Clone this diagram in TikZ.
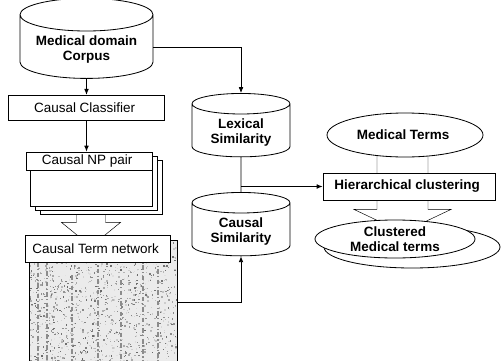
\documentclass[tikz,border=0pt]{standalone}
\usepackage{fontspec}
\setmainfont{Liberation Sans}
\usetikzlibrary{
arrows.meta,
positioning,
shapes.geometric,
backgrounds,
calc
}

\begin{document}
\begin{tikzpicture}[
x=0.03cm,
y=-0.03cm,
line width=0.7pt,
font=\fontsize{11.5}{13.5}\selectfont,
box/.style={
draw,
fill=white,
inner sep=1pt,
align=center
},
db/.style={
draw,
fill=white,
cylinder,
shape border rotate=90,
aspect=0.3,
align=center,
font=\fontsize{11.5}{13.5}\selectfont\bfseries
},
oval/.style={
draw,
fill=white,
ellipse,
inner sep=0pt,
align=center,
font=\fontsize{11.5}{13.5}\selectfont\bfseries
},
page/.style={
draw,
fill=white,
minimum width=3.66cm,
minimum height=1.62cm
},
arrow/.style={-{Latex[length=5pt,width=4pt]}},
fatarrow/.style={draw,fill=white,line join=miter}
]
\useasboundingbox (0,0) rectangle (501,360);

% left column
\node[db,minimum width=3.99cm,minimum height=2.25cm] (corpus) at (86.5,49.5) {
Medical domain\\
Corpus
};

\node[box,minimum width=4.68cm,minimum height=0.75cm,below=0.48cm of corpus] (classifier) {
Causal Classifier
};

\foreach \k in {2,1,0}
  \node[page] (pg\k) at ({91+5*\k},{179+4*\k}) {};

\node[box,minimum width=3.78cm,minimum height=0.54cm,anchor=north east] (nppair) at (pg0.north east) {
Causal NP pair
};

\node[box,minimum width=4.35cm,minimum height=0.81cm] (termnet) at (97.5,248.5) {
Causal Term network
};

% middle column
\node[db,minimum width=2.94cm,minimum height=1.77cm] (lexsim) at (241,132.5) {
Lexical\\
Similarity
};

\node[db,minimum width=2.94cm,minimum height=1.8cm] (causim) at (241,231.5) {
Causal\\
Similarity
};

% right column
\node[oval,minimum width=4.68cm,minimum height=1.32cm] (medterms) at (405,135) {
Medical Terms
};

\node[box,minimum width=5.16cm,minimum height=0.81cm,font=\fontsize{11.5}{13.5}\selectfont\bfseries] (hiercl) at (409,186.5) {
Hierarchical clustering
};

\node[oval,minimum width=5.28cm,minimum height=1.26cm] (clusterbk) at (412,247) {};
\node[oval,minimum width=4.8cm,minimum height=1.14cm,font=\fontsize{11.5}{12.5}\selectfont\bfseries] (clustered) at (395,239) {
Clustered\\
Medical terms
};

% network picture and block arrows
\begin{scope}[on background layer]
\node[fill=black!8,minimum width=4.44cm,minimum height=3.96cm] (netimg) at (103,306) {};
\begin{scope}
\clip (netimg.south west) rectangle (netimg.north east);
\pgfmathsetseed{7}
\foreach \i in {1,...,1300} {
  \pgfmathsetmacro{\nx}{29+148*rnd}
  \pgfmathsetmacro{\ny}{240+132*rnd}
  \pgfmathsetmacro{\ng}{10+50*rnd}
  \fill[black!\ng] (\nx,\ny) rectangle ++(1.4,1.4);
}
\foreach \sx/\sy in {38/262,47/250,72/275,98/258,121/280,143/265,158/248}
  \draw[black!45,line width=0.9pt,dash pattern=on 4pt off 2pt on 1pt off 2pt] (\sx,\sy) -- (\sx,372);
\end{scope}
\draw (netimg.south west) rectangle (netimg.north east);

\coordinate (fa1) at (pg0.south |- pg2.south);
\draw[fatarrow] ($(fa1)+(-14.5,0.5)$) --++(0,7.5) --++(-15,0) --++(29.5,24) --++(29.5,-24) --++(-15,0) --++(0,-7.5);

\coordinate (fa2) at ($(medterms.south)+(-2.5,-2)$);
\draw[fatarrow] ($(fa2)+(-25.5,0)$) --++(0,22) --++(-10,0) --++(35.5,10) --++(35.5,-10) --++(-10,0) --++(0,-22);

\coordinate (fa3) at ($(hiercl.south)+(-6.5,0)$);
\draw[fatarrow] ($(fa3)+(-25.5,0)$) --++(0,9) --++(-23,0) --++(48.5,23) --++(48.5,-23) --++(-23,0) --++(0,-9);
\end{scope}

% connectors
\draw[arrow] (corpus.south) -- (corpus.south |- classifier.north);
\draw[arrow] (classifier.south) -- (classifier.south |- nppair.north);
\draw[arrow] ($(corpus.east)+(0,-2.5)$) -| (lexsim.north);
\draw (lexsim.south) -- (causim.north);
\draw[arrow] (hiercl.west -| lexsim.south) -- (hiercl.west);
\draw[arrow] ($(netimg.east)+(0,-4)$) -| (causim.south);

\end{tikzpicture}
\end{document}
